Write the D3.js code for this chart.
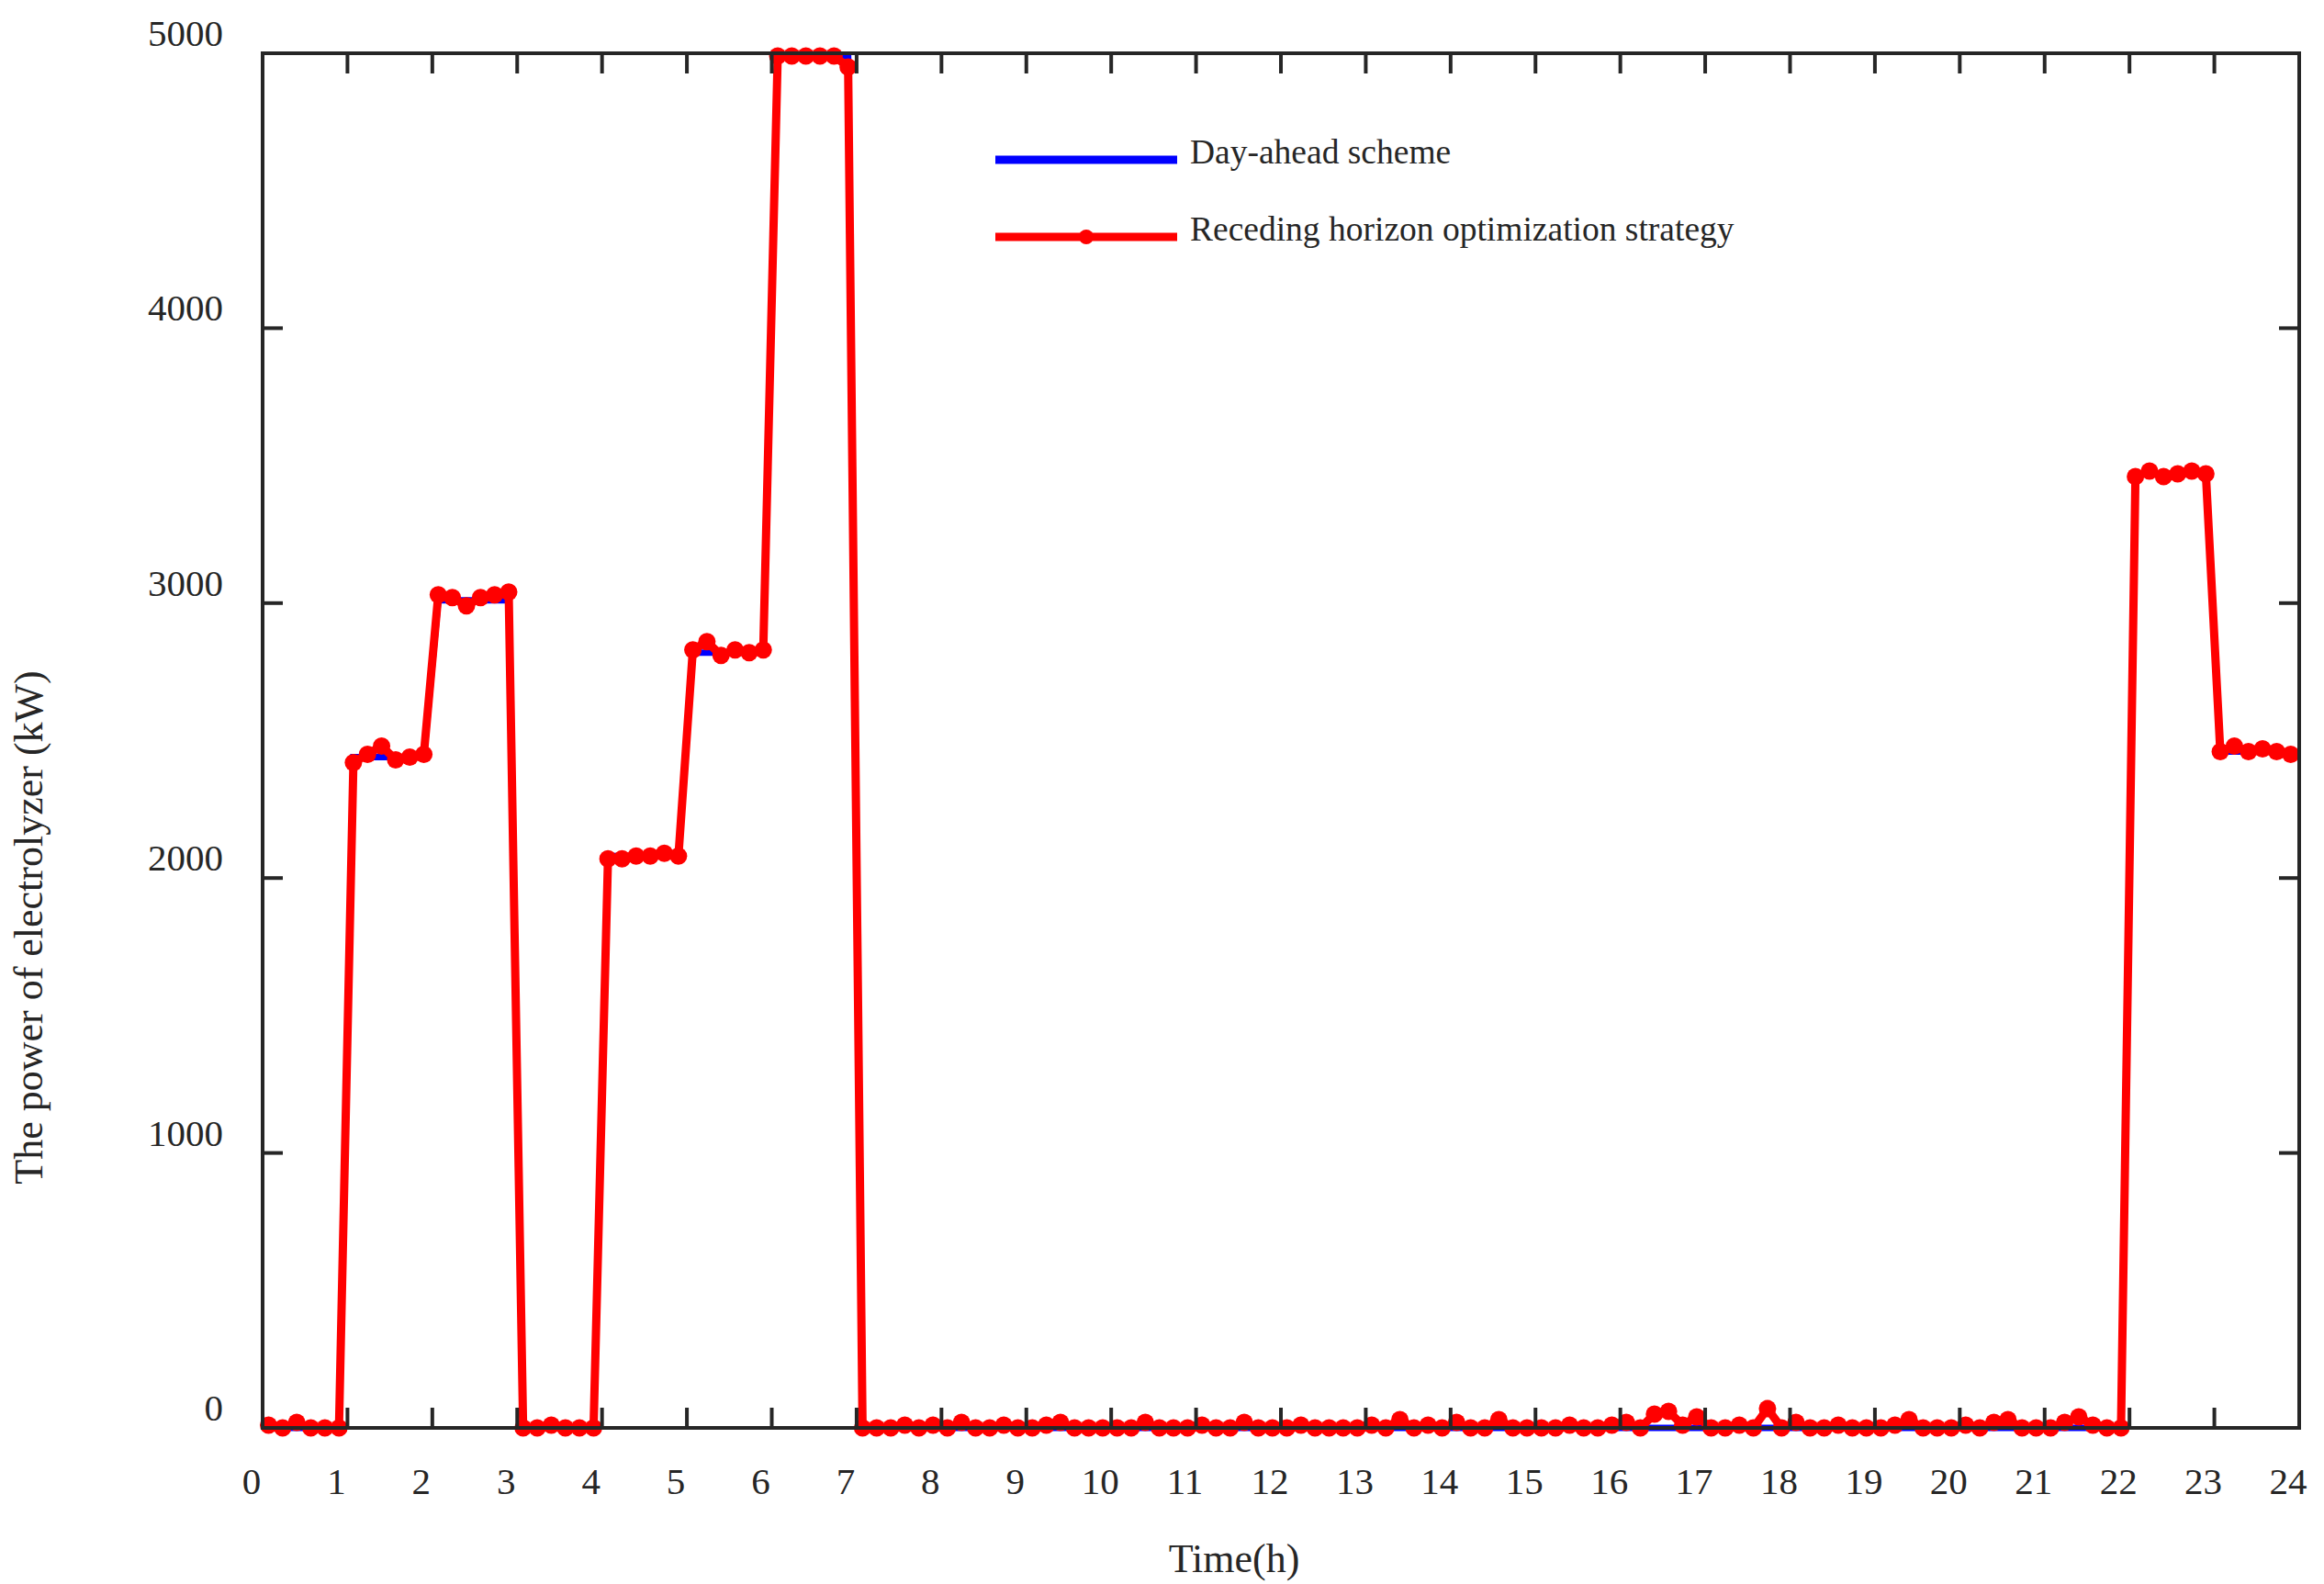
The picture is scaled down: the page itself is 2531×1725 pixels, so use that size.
<!DOCTYPE html>
<html><head><meta charset="utf-8">
<script src="https://cdn.jsdelivr.net/npm/d3@7"></script>
<style>body{margin:0;background:#fff}</style></head>
<body><svg id="c" width="2531" height="1725"></svg>
<script>
// Day-ahead scheme: hourly electrolyzer power (kW), hour 0..23
const dayAheadHourly = [0,2440,3010,0,2080,2820,4990,0,0,0,0,0,0,0,0,0,0,0,0,0,0,0,3470,2460];
// Receding horizon strategy: 10-minute values, one row per hour
const recedingRows = [
 [10,0,20,0,0,0],
 [2420,2450,2480,2430,2440,2450],
 [3030,3020,2990,3020,3030,3040],
 [0,0,10,0,0,0],
 [2070,2070,2080,2080,2090,2080],
 [2830,2860,2810,2830,2820,2830],
 [4990,4990,4990,4990,4990,4950],
 [0,0,0,10,0,10],
 [0,20,0,0,10,0],
 [0,10,20,0,0,0],
 [0,0,20,0,0,0],
 [10,0,0,20,0,0],
 [0,10,0,0,0,0],
 [10,0,30,0,10,0],
 [20,0,0,30,0,0],
 [0,0,10,0,0,10],
 [20,0,50,60,10,40],
 [0,0,10,0,70,0],
 [20,0,0,10,0,0],
 [0,10,30,0,0,0],
 [10,0,20,30,0,0],
 [0,20,40,10,0,0],
 [3460,3480,3460,3470,3480,3470],
 [2460,2480,2460,2470,2460,2450]
];
const xTicks = d3.range(0,25);
const yTicks = [0,1000,2000,3000,4000,5000];
const legendLabels = ["Day-ahead scheme","Receding horizon optimization strategy"];

const red = [];
recedingRows.forEach((row,h)=>row.forEach((v,j)=>red.push([h+0.07+j*0.166, v])));
const blue = [];
dayAheadHourly.forEach((v,h)=>{blue.push([h+0.07,v]); blue.push([h+0.9,v]);});

const L=286,R=2504,T=58,B=1555;
const svg=d3.select("#c");
const x=d3.scaleLinear().domain([0,24]).range([L,R]);
const y=d3.scaleLinear().domain([0,5000]).range([B,T]);
const ink="#262626", font="'Liberation Serif','Times New Roman',serif";

const line=d3.line().x(d=>x(d[0])).y(d=>y(d[1]));
svg.append("path").datum(blue).attr("d",line).attr("fill","none").attr("stroke","#0000ff").attr("stroke-width",7);
svg.append("path").datum(red).attr("d",line).attr("fill","none").attr("stroke","#ff0000").attr("stroke-width",9);
svg.append("g").selectAll("circle").data(red).join("circle")
 .attr("cx",d=>x(d[0])).attr("cy",d=>y(d[1])).attr("r",9.5).attr("fill","#ff0000");

svg.append("rect").attr("x",L).attr("y",T).attr("width",R-L).attr("height",B-T)
 .attr("fill","none").attr("stroke",ink).attr("stroke-width",4);
const tl=22;
const g=svg.append("g").attr("stroke",ink).attr("stroke-width",4);
xTicks.slice(1,-1).forEach(t=>{
 g.append("line").attr("x1",x(t)).attr("x2",x(t)).attr("y1",B).attr("y2",B-tl);
 g.append("line").attr("x1",x(t)).attr("x2",x(t)).attr("y1",T).attr("y2",T+tl);
});
yTicks.slice(1,-1).forEach(t=>{
 g.append("line").attr("x1",L).attr("x2",L+tl).attr("y1",y(t)).attr("y2",y(t));
 g.append("line").attr("x1",R).attr("x2",R-tl).attr("y1",y(t)).attr("y2",y(t));
});
svg.append("g").selectAll("text").data(xTicks).join("text")
 .attr("x",d=>x(d)-12).attr("y",1627).attr("text-anchor","middle")
 .attr("font-family",font).attr("font-size",41).attr("fill",ink).text(d=>d);
svg.append("g").selectAll("text").data(yTicks).join("text")
 .attr("x",243).attr("y",d=>y(d)-8).attr("text-anchor","end")
 .attr("font-family",font).attr("font-size",41).attr("fill",ink).text(d=>d);
svg.append("text").attr("x",1344).attr("y",1712).attr("text-anchor","middle")
 .attr("font-family",font).attr("font-size",44).attr("fill",ink).text("Time(h)");
svg.append("text").attr("transform","translate(46,1010) rotate(-90)").attr("text-anchor","middle")
 .attr("font-family",font).attr("font-size",44).attr("fill",ink).text("The power of electrolyzer (kW)");

const lg=svg.append("g");
lg.append("line").attr("x1",1084).attr("x2",1282).attr("y1",174).attr("y2",174).attr("stroke","#0000ff").attr("stroke-width",9);
lg.append("line").attr("x1",1084).attr("x2",1282).attr("y1",258).attr("y2",258).attr("stroke","#ff0000").attr("stroke-width",9);
lg.append("circle").attr("cx",1183).attr("cy",258).attr("r",8).attr("fill","#ff0000");
lg.selectAll("text").data(legendLabels).join("text")
 .attr("x",1296).attr("y",(d,i)=>178+i*84).attr("font-family",font).attr("font-size",37.5).attr("fill",ink).text(d=>d);
</script></body></html>
